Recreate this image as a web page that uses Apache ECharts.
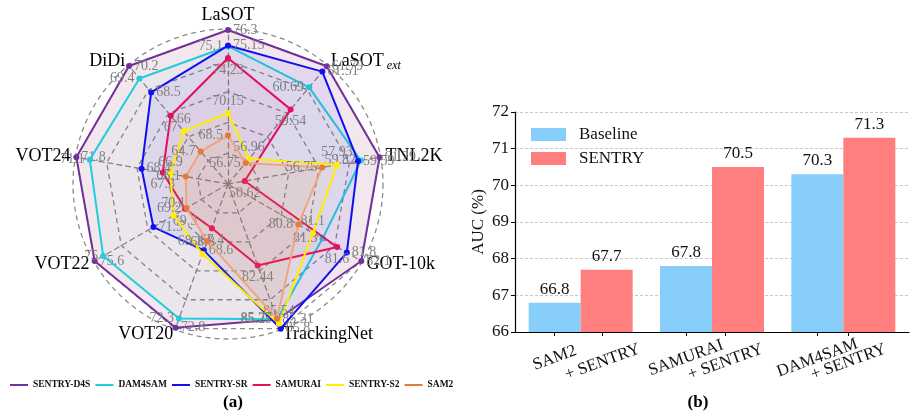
<!DOCTYPE html>
<html>
<head>
<meta charset="utf-8">
<script src="https://cdn.jsdelivr.net/npm/echarts@6/dist/echarts.min.js"></script>
<style>html,body{margin:0;padding:0;background:#fff}#c{width:910px;height:420px}</style>
</head>
<body>
<div id="c"></div>
<script>
// ---------- Radar (a) data, axes clockwise from top ----------
const indicatorNames = ['LaSOT', 'LaSOT_ext', 'TNL2K', 'GOT-10k', 'TrackingNet', 'VOT20', 'VOT22', 'VOT24', 'DiDi'];
const axisMin = [64.9, 55.65, 49.3, 79.35, 78.1, 65.0, 66.3, 63.9, 62.6];
const axisMax = [76.3, 61.8, 61.3, 82.1, 85.8, 72.85, 75.6, 71.8, 70.2];

const seriesNames = ['SENTRY-D4S', 'DAM4SAM', 'SENTRY-SR', 'SAMURAI', 'SENTRY-S2', 'SAM2'];
const sentryD4S = [76.3, 61.79, 61.29, 82.1, 85.31, 72.8, 75.6, 71.8, 70.2];
const dam4sam   = [75.1, 60.69, 59.82, 81.3, 85.29, 72.3, 75, 71.1, 69.4];
const sentrySR  = [75.15, 61.51, 59.59, 81.8, 85.8, 68.6, 71.5, 68.4, 68.5];
const samurai   = [74.23, 59.54, 50.62, 81.6, 82.44, 67.4, 69.3, 67.3, 67];
const sentryS2  = [70.15, 56.96, 57.93, 81.1, 85.54, 68.8, 70.1, 66.9, 66];
const sam2      = [68.5, 56.75, 56.75, 80.8, 85.27, 68.1, 69.2, 66.1, 64.7];

// ---------- Bar (b) data ----------
const barCategories = ['SAM2', 'SAMURAI', 'DAM4SAM'];
const sentrySuffix = '+ SENTRY';
const baselineAUC = [66.8, 67.8, 70.3];
const sentryAUC = [67.7, 70.5, 71.3];
const aucMin = 66, aucMax = 72, aucStep = 1;

// ---------- styles ----------
const SERIF = '"Liberation Serif", "DejaVu Serif", serif';
const lineColors = ['#7030A0', '#22CCDD', '#1010F0', '#E5105A', '#FFEE00', '#F4A582'];
const dotColors  = ['#7030A0', '#22CCDD', '#1010F0', '#E5105A', '#FFEE00', '#E87A35'];
const areaColors = ['rgba(140,60,110,0.18)', 'rgba(34,204,221,0.04)', 'rgba(40,30,240,0.10)',
                    'rgba(220,20,80,0.06)', 'rgba(255,230,0,0.06)', 'rgba(230,120,50,0.10)'];
const labelPos = ['right', 'left', 'right', 'bottom', 'top', 'left'];
const allValues = [sentryD4S, dam4sam, sentrySR, samurai, sentryS2, sam2];

// ECharts radar runs counter-clockwise; reorder so the picture reads clockwise
const order = [0, 8, 7, 6, 5, 4, 3, 2, 1];
const center = [228, 184], R = 154;
const barW = 52;
const gridLeft = 515, gridW = 394, gridTop = 112, gridBottom = 88;

const chart = echarts.init(document.getElementById('c'), null, {renderer: 'canvas'});

const gridDash = {color: '#8a8a8a', type: [5, 4], width: 1.3};

const radarSeries = seriesNames.map((n, k) => ({
  type: 'radar', radarIndex: 0, name: n,
  symbol: 'circle', symbolSize: 6,
  z: 2 + k,
  lineStyle: {color: lineColors[k], width: 2},
  itemStyle: {color: dotColors[k]},
  areaStyle: {color: areaColors[k]},
  label: {show: true, position: labelPos[k], distance: 2, color: '#808080', fontFamily: SERIF, fontSize: 14},
  data: [{name: n, value: order.map(i => allValues[k][i])}]
}));

const option = {
  animation: false,
  backgroundColor: '#fff',
  title: [
    {text: '(a)', left: 228, top: 389, textAlign: 'center',
     textStyle: {fontFamily: SERIF, fontWeight: 'bold', fontSize: 17, color: '#000'}},
    {text: '(b)', left: 693, top: 389, textAlign: 'center',
     textStyle: {fontFamily: SERIF, fontWeight: 'bold', fontSize: 17, color: '#000'}}
  ],
  legend: [
    {data: seriesNames, left: 5, top: 375, icon: 'rect', itemWidth: 18, itemHeight: 2, itemGap: 5,
     textStyle: {fontFamily: SERIF, fontWeight: 'bold', fontSize: 9.5, color: '#111'}},
    {data: ['Baseline', 'SENTRY'], left: 526, top: 121, orient: 'vertical', icon: 'rect',
     itemWidth: 35, itemHeight: 13, itemGap: 7,
     textStyle: {fontFamily: SERIF, fontSize: 17, color: '#111', padding: [0, 0, 0, 8]}}
  ],
  radar: [
    {
      center: center, radius: R, startAngle: 90, shape: 'polygon', splitNumber: 5,
      indicator: order.map(i => ({name: indicatorNames[i], min: axisMin[i], max: axisMax[i]})),
      axisName: {
        color: '#000', fontFamily: SERIF, fontSize: 18,
        formatter: nm => nm === 'LaSOT_ext' ? '{a|LaSOT}{b| ext}' : nm,
        rich: {a: {fontFamily: SERIF, fontSize: 18, color: '#000'},
               b: {fontFamily: SERIF, fontSize: 12, fontStyle: 'italic', color: '#000', padding: [8, 0, 0, 0]}}
      },
      nameGap: 6,
      splitLine: {lineStyle: gridDash},
      splitArea: {show: false},
      axisLine: {lineStyle: gridDash},
      axisTick: {show: false}, axisLabel: {show: false}
    },
    {
      center: center, radius: R + 1, startAngle: 90, shape: 'circle', splitNumber: 1,
      indicator: order.map(() => ({name: '', min: 0, max: 1})),
      axisName: {show: false},
      splitLine: {lineStyle: gridDash},
      splitArea: {show: false},
      axisLine: {show: false}, axisTick: {show: false}, axisLabel: {show: false}
    }
  ],
  grid: [
    {left: gridLeft, width: gridW, top: gridTop, bottom: gridBottom},
    {left: gridLeft - barW / 2, width: gridW, top: gridTop, bottom: gridBottom},
    {left: gridLeft + barW / 2, width: gridW, top: gridTop, bottom: gridBottom}
  ],
  xAxis: [
    {type: 'category', gridIndex: 0, data: barCategories,
     axisLine: {lineStyle: {color: '#000', width: 1.2}}, axisTick: {show: false}, axisLabel: {show: false}},
    {type: 'category', gridIndex: 1, data: barCategories,
     axisLine: {show: false}, axisTick: {show: true, alignWithLabel: true, length: 4, lineStyle: {color: '#000'}},
     axisLabel: {rotate: 20, align: 'center', verticalAlign: 'middle', margin: 26,
                 fontFamily: SERIF, fontSize: 17, color: '#111'}},
    {type: 'category', gridIndex: 2, data: barCategories.map(() => sentrySuffix),
     axisLine: {show: false}, axisTick: {show: true, alignWithLabel: true, length: 4, lineStyle: {color: '#000'}},
     axisLabel: {rotate: 20, align: 'center', verticalAlign: 'middle', margin: 30, interval: 0,
                 fontFamily: SERIF, fontSize: 17, color: '#111'}}
  ],
  yAxis: [
    {type: 'value', gridIndex: 0, min: aucMin, max: aucMax, interval: aucStep,
     name: 'AUC (%)', nameLocation: 'middle', nameGap: 28, nameRotate: 90,
     nameTextStyle: {fontFamily: SERIF, fontSize: 17, color: '#111'},
     axisLine: {show: true, lineStyle: {color: '#000', width: 1.2}},
     axisTick: {show: true, length: 4, lineStyle: {color: '#000'}},
     axisLabel: {fontFamily: SERIF, fontSize: 17, color: '#111', margin: 6},
     splitLine: {lineStyle: {color: '#c8c8c8', type: [3, 2], width: 1}}},
    {type: 'value', gridIndex: 1, min: aucMin, max: aucMax, show: false},
    {type: 'value', gridIndex: 2, min: aucMin, max: aucMax, show: false}
  ],
  series: radarSeries.concat([
    {type: 'bar', name: 'Baseline', xAxisIndex: 0, yAxisIndex: 0, data: baselineAUC,
     barWidth: barW, barGap: '0%', itemStyle: {color: '#87CEFA'},
     label: {show: true, position: 'top', distance: 5, fontFamily: SERIF, fontSize: 17, color: '#111'}},
    {type: 'bar', name: 'SENTRY', xAxisIndex: 0, yAxisIndex: 0, data: sentryAUC,
     barWidth: barW, barGap: '0%', itemStyle: {color: '#FF7F7F'},
     label: {show: true, position: 'top', distance: 5, fontFamily: SERIF, fontSize: 17, color: '#111'}}
  ])
};
chart.setOption(option);
</script>
</body>
</html>
